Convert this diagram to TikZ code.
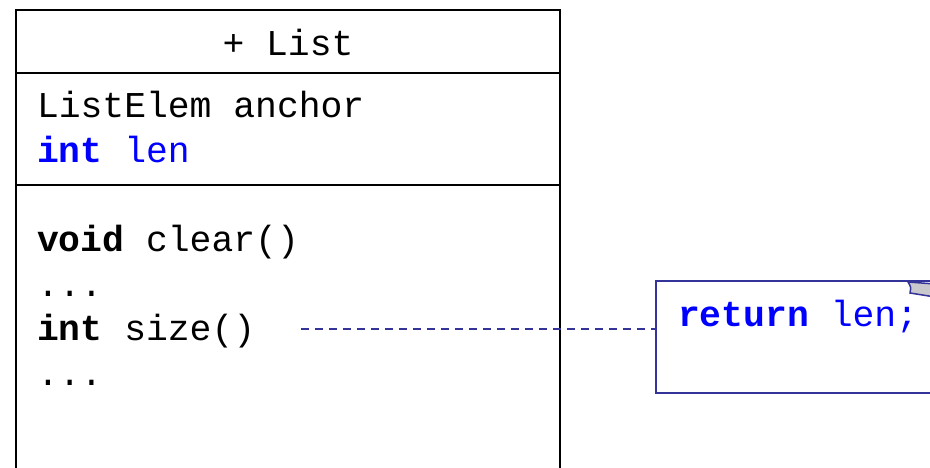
\documentclass[tikz,border=0pt]{standalone}
\usepackage{fontspec}
\setmonofont{Liberation Mono}
\begin{document}
\begin{tikzpicture}[x=1bp,y=-1bp,
  classline/.style={draw=black,line width=2.2bp},
  noteline/.style={draw=noteblue,line width=2bp},
  code/.style={font=\fontsize{36.5}{44}\ttfamily,anchor=base west,inner sep=0pt,outer sep=0pt}]
\definecolor{noteblue}{RGB}{51,51,153}
\definecolor{kwblue}{RGB}{0,0,255}
\definecolor{foldgrey}{RGB}{200,200,205}
\useasboundingbox (0,0) rectangle (930,468);
\fill[white] (0,0) rectangle (930,468);

% class box, running off the bottom
\draw[classline] (16,480) -- (16,10) -- (560,10) -- (560,480);
\draw[classline] (16,73) -- (560,73);
\draw[classline] (16,185) -- (560,185);

% class name
\node[code,anchor=base] (name) at (288,56) {+ List};

% attributes
\node[code] (a1) at (37,118) {ListElem anchor};
\node[code,text=kwblue] (a2) at (37,163) {\textbf{int} len};

% operations
\node[code] (o1) at (37,252) {\textbf{void} clear()};
\node[code] (o2) at (37,297) {...};
\node[code] (o3) at (37,341) {\textbf{int} size()};
\node[code] (o4) at (37,386) {...};

% note, running off the right edge
\draw[noteline] (945,281) -- (656,281) -- (656,393) -- (945,393);
\filldraw[fill=foldgrey,draw=noteblue,line width=1.5bp]
  (908,282) .. controls (911,287) .. (910,293) -- (935,297) -- (935,284) -- cycle;
\node[code,text=kwblue] (ret) at (678,327) {\textbf{return} len;};

% link from the operation to the note
\coordinate (noteleft) at (656,329);
\draw[draw=noteblue,line width=1.2bp,dash pattern=on 8bp off 6bp]
  ([xshift=46bp]o3.base east) ++(0,-12) -- (noteleft);
\end{tikzpicture}
\end{document}
